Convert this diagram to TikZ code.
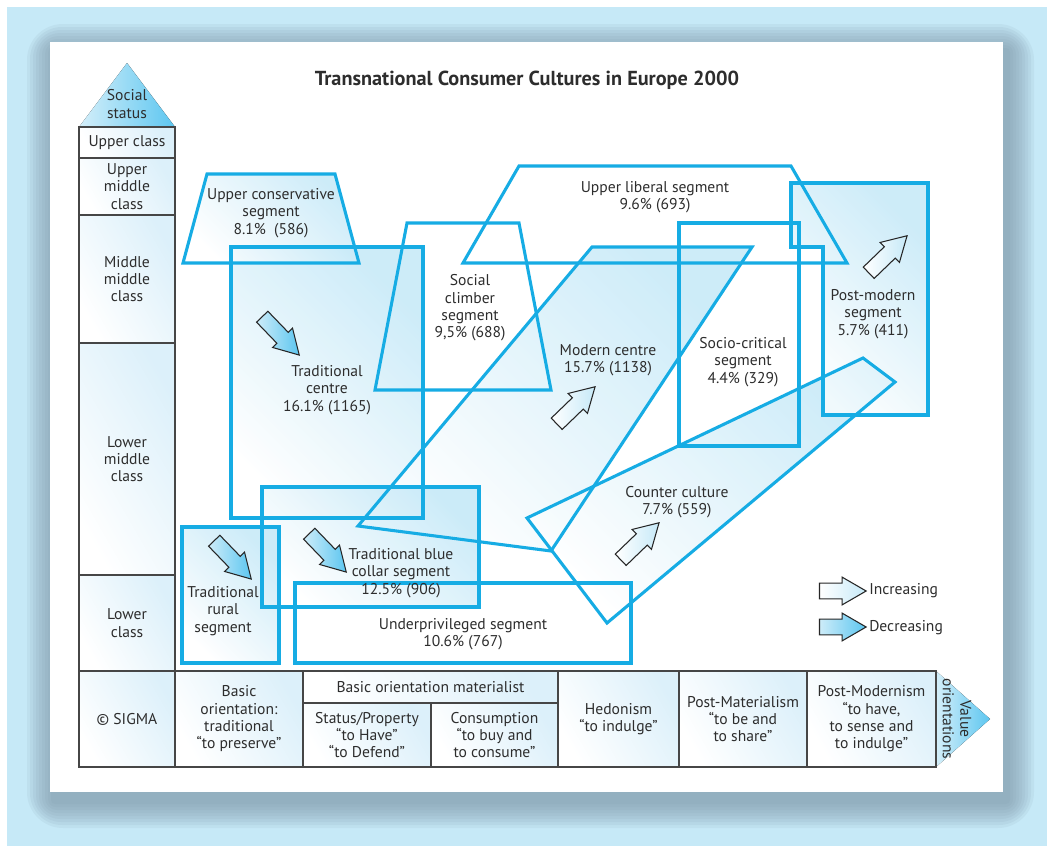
\documentclass[tikz,border=0pt]{standalone}
\usepackage{fontspec}
\setmainfont{PT Sans}
\usetikzlibrary{shapes.arrows}
\definecolor{cyanline}{RGB}{22,172,228}
\definecolor{cyanpale}{RGB}{184,228,246}
\definecolor{cyandeep}{RGB}{92,198,240}
\definecolor{framebg}{RGB}{198,233,247}
\definecolor{shadowbg}{RGB}{120,145,162}
\definecolor{gridline}{RGB}{70,70,70}
\definecolor{cellblue}{RGB}{220,240,250}
\definecolor{textgrey}{RGB}{45,45,45}
\pgfdeclarelayer{backdrop}
\pgfdeclarelayer{tints}
\pgfsetlayers{backdrop,tints,main}
\tikzset{
  segment/.style={draw=cyanline, line width=2.3pt, line join=miter},
  segtint/.style={left color=white, right color=cyanpale, shading angle=135, fill opacity=0.7},
  cell/.style={draw=gridline, line width=1.1pt, left color=white, right color=cellblue, shading angle=120},
  pointer/.style={left color=cyanpale!60, right color=cyandeep},
  lbl/.style={align=center, font=\fontsize{11.7}{13}\selectfont, text=textgrey, inner sep=0pt},
  bigarrow/.style={single arrow, draw=black!85, line width=0.8pt, minimum height=40pt,
    inner xsep=0pt, inner ysep=5.5pt, single arrow head extend=4.5pt, single arrow tip angle=60},
  incarrow/.style={bigarrow, left color=white, right color=cyanpale!80},
  decarrow/.style={bigarrow, left color=cyanpale!70, right color=cyandeep}
}
\newcommand{\classcell}[4]{\draw[cell] (79,#1) rectangle (175,#2);
  \node[lbl] (#3) at (127,{(#1+#2)/2}) {#4};}
\newcommand{\valuecell}[6]{\draw[cell] (#1,#2) rectangle (#3,#4);
  \node[lbl] (#5) at ({(#1+#3)/2},{(#2+#4)/2}) {#6};}
\newcommand{\tintseg}[1]{\begin{pgfonlayer}{tints}\shade[segtint] #1;\end{pgfonlayer}
  \draw[segment] #1;}

\begin{document}
\begin{tikzpicture}[x=0.75pt, y=-0.75pt]
  \useasboundingbox (0,0) rectangle (1047,846);
  \begin{pgfonlayer}{backdrop}
    \fill[framebg] (7,7) rectangle (1047,846);
    \foreach \d in {27,24,...,3}
      \fill[shadowbg, fill opacity=0.1, rounded corners=\d pt] (54-\d,51-\d) rectangle (1007+\d,801+\d);
    \fill[white] (50,42) rectangle (1003,792);
  \end{pgfonlayer}

  \node[font=\bfseries\fontsize{15.2}{18}\selectfont, text=textgrey] (title) at (527,80)
    {Transnational Consumer Cultures in Europe 2000};

  \fill[pointer] (79,127) -- (127,63) -- (175,127) -- cycle;
  \node[lbl] (status) at (127,104) {Social\\status};
  \classcell{127}{158}{upper}{Upper class}
  \classcell{158}{215}{uppermid}{Upper\\middle\\class}
  \classcell{215}{343}{midmid}{Middle\\middle\\class}
  \classcell{343}{575}{lowermid}{Lower\\middle\\class}
  \classcell{575}{671}{lower}{Lower\\class}

  \fill[pointer] (936,671) -- (990,719) -- (936,767) -- cycle;
  \node[lbl, rotate=-90] (valor) at (957,719) {Value\\orientations};
  \valuecell{79}{671}{175}{767}{sigma}{\textcopyright{} SIGMA}
  \valuecell{175}{671}{303}{767}{basic}{Basic\\orientation:\\traditional\\“to preserve”}
  \valuecell{303}{671}{558}{703}{material}{Basic orientation materialist}
  \valuecell{303}{703}{431}{767}{property}{Status/Property\\“to Have”\\“to Defend”}
  \valuecell{431}{703}{558}{767}{consume}{Consumption\\“to buy and\\to consume”}
  \valuecell{558}{671}{679}{767}{hedon}{Hedonism\\“to indulge”}
  \valuecell{679}{671}{807}{767}{postmat}{Post-Materialism\\“to be and\\to share”}
  \valuecell{807}{671}{936}{767}{postmod}{Post-Modernism\\“to have,\\to sense and\\to indulge”}

  \tintseg{(231,247) rectangle (423,518)}
  \tintseg{(207,174) -- (335,174) -- (359,263) -- (183,263) -- cycle}
  \tintseg{(592,247) -- (752,247) -- (551,551) -- (358,526) -- cycle}
  \tintseg{(527,518) -- (863,358) -- (895,382) -- (607,623) -- cycle}
  \tintseg{(791,183) -- (928,183) -- (928,415) -- (823,415) -- (823,247) -- (791,247) -- cycle}
  \tintseg{(262,487) rectangle (479,607)}
  \tintseg{(182,527) rectangle (279,663)}
  \draw[segment] (407,223) -- (519,223) -- (551,390) -- (375,390) -- cycle;
  \draw[segment] (519,166) -- (791,166) -- (847,263) -- (463,263) -- cycle;
  \draw[segment] (679,223) rectangle (799,446);
  \draw[segment] (295,583) rectangle (631,663);

  \node[lbl] (upcons) at (271,213) {Upper conservative\\segment\\8.1\%\ \ (586)};
  \node[lbl] (climber) at (470,308) {Social\\climber\\segment\\9,5\% (688)};
  \node[lbl] (tradcentre) at (327,390) {Traditional\\centre\\16.1\% (1165)};
  \node[lbl] (uplib) at (655,197) {Upper liberal segment\\9.6\% (693)};
  \node[lbl] (modcentre) at (608,360) {Modern centre\\15.7\% (1138)};
  \node[lbl] (sociocrit) at (743,362) {Socio-critical\\segment\\4.4\% (329)};
  \node[lbl] (postmodern) at (873,314) {Post-modern\\segment\\5.7\% (411)};
  \node[lbl] (counter) at (677,502) {Counter culture\\7.7\% (559)};
  \node[lbl] (bluecollar) at (401,573) {Traditional blue\\collar segment\\12.5\% (906)};
  \node[lbl] (rural) at (223,611) {Traditional\\rural\\segment};
  \node[lbl] (underpriv) at (463,634) {Underprivileged segment\\10.6\% (767)};

  \node[decarrow, rotate=-46] (tcarrow) at (276,331) {};
  \node[decarrow, rotate=-46] (rurarrow) at (228,555) {};
  \node[decarrow, rotate=-46] (bcarrow) at (323,548) {};
  \node[incarrow, rotate=44] (mcarrow) at (571,410) {};
  \node[incarrow, rotate=44] (ccarrow) at (635,546) {};
  \node[incarrow, rotate=44] (pmarrow) at (883,259) {};

  \node[incarrow, minimum height=35pt] (incleg) at (836,591) {};
  \node[decarrow, minimum height=35pt] (decleg) at (836,627) {};
  \node[lbl, anchor=west] (inctext) at (869,591) {Increasing};
  \node[lbl, anchor=west] (dectext) at (869,628) {Decreasing};
\end{tikzpicture}
\end{document}
